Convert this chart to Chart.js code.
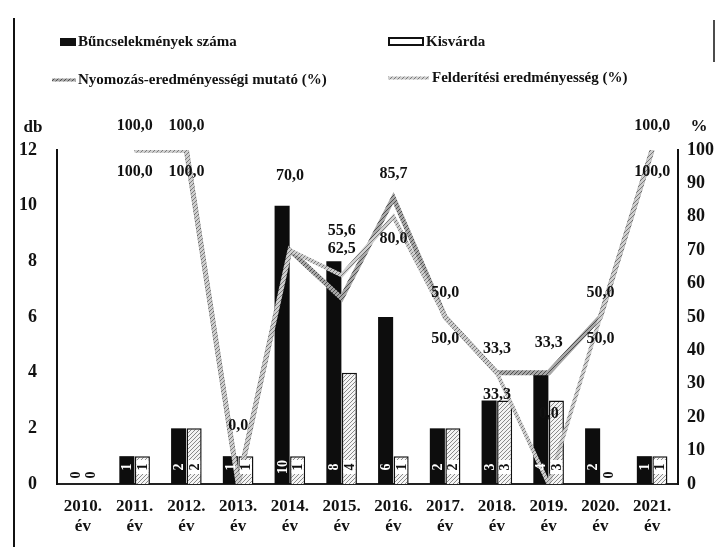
<!DOCTYPE html>
<html>
<head>
<meta charset="utf-8">
<script src="https://cdn.jsdelivr.net/npm/chart.js@4/dist/chart.umd.min.js"></script>
<style>
  body { margin: 0; background: #fff; }
  #wrap { width: 716px; height: 547px; position: relative; }
</style>
</head>
<body>
<div id="wrap"><canvas id="chart"></canvas></div>
<script>
// values
const years = ['2010.', '2011.', '2012.', '2013.', '2014.', '2015.', '2016.', '2017.', '2018.', '2019.', '2020.', '2021.'];
const crimes = [0, 1, 2, 1, 10, 8, 6, 2, 3, 4, 2, 1];
const kisvarda = [0, 1, 2, 1, 1, 4, 1, 2, 3, 3, 0, 1];
const nyomozas = [null, 100, 100, 0, 70, 55.6, 85.7, 50, 33.3, 33.3, 50, 100];
const felderites = [null, 100, 100, 0, 70, 62.5, 80, 50, 33.3, 0, 50, 100];
const dbTicks = [0, 2, 4, 6, 8, 10, 12];
const pctTicks = [0, 10, 20, 30, 40, 50, 60, 70, 80, 90, 100];

const SERIF = '"Liberation Serif", "DejaVu Serif", serif';

function makePattern(bg, dot, size) {
  const c = document.createElement('canvas');
  c.width = size; c.height = size;
  const g = c.getContext('2d');
  g.fillStyle = bg; g.fillRect(0, 0, size, size);
  g.fillStyle = dot;
  g.fillRect(0, 0, 1, 1);
  g.fillRect(2, 2, 1, 1);
  g.fillRect(1, 3, 1, 1);
  g.fillRect(3, 1, 1, 1);
  return g.createPattern(c, 'repeat');
}
const hatch = makePattern('#f4f4f4', '#8a8a8a', 4);
const lineA = makePattern('#a8a8a8', '#4e4e4e', 4);
const lineB = makePattern('#cfcfcf', '#7a7a7a', 4);

function fmt(v) { return v.toFixed(1).replace('.', ','); }

const annot = {
  id: 'annot',
  afterDatasetsDraw(chart) {
    const ctx = chart.ctx;
    const y = chart.scales.y;
    const base = y.getPixelForValue(0);
    // labels inside the bars
    [0, 1].forEach(di => {
      const meta = chart.getDatasetMeta(di);
      meta.data.forEach((bar, i) => {
        const v = chart.data.datasets[di].data[i];
        ctx.save();
        ctx.translate(bar.x, base - (v === 0 ? 9 : 17));
        ctx.rotate(-Math.PI / 2);
        ctx.font = 'bold 14px ' + SERIF;
        ctx.textAlign = 'center';
        ctx.textBaseline = 'middle';
        if (di === 1 && v > 0) {
          ctx.fillStyle = '#fff';
          ctx.fillRect(-7, -6, 14, 12);
        }
        ctx.fillStyle = (di === 0 && v > 0) ? '#fff' : '#111';
        ctx.fillText(String(v), 0, 1);
        ctx.restore();
      });
    });
    // labels of the two percentage lines, kept clear of the black bars
    const bars = chart.getDatasetMeta(0).data;
    const placed = [];
    ctx.save();
    ctx.font = 'bold 16px ' + SERIF;
    ctx.fillStyle = '#111';
    ctx.textAlign = 'center';
    ctx.textBaseline = 'middle';
    chart.getDatasetMeta(2).data.forEach((pt, i) => {
      const v = nyomozas[i];
      if (v === null) return;
      const ly = Math.min(pt.y - 24, bars[i].y - 30);
      placed[i] = ly;
      ctx.fillText(fmt(v), pt.x, ly);
    });
    chart.getDatasetMeta(3).data.forEach((pt, i) => {
      const v = felderites[i];
      if (v === null) return;
      let ly = pt.y + 22;
      if (v < 10) ly = pt.y - 70;
      else if (ly > bars[i].y) ly = Math.min(pt.y - 24, bars[i].y - 12);
      if (nyomozas[i] === v && placed[i] !== undefined && Math.abs(placed[i] - ly) < 22) return;
      ctx.fillText(fmt(v), pt.x, ly);
    });
    ctx.restore();
  },
  afterDraw(chart) {
    const ctx = chart.ctx;
    const ds = chart.data.datasets;
    ctx.save();
    // frame line on the left edge of the scan
    ctx.strokeStyle = '#111';
    ctx.lineWidth = 2;
    ctx.beginPath(); ctx.moveTo(14, 18); ctx.lineTo(14, 547); ctx.stroke();
    ctx.lineWidth = 1.5;
    ctx.beginPath(); ctx.moveTo(714, 20); ctx.lineTo(714, 62); ctx.stroke();

    ctx.font = 'bold 15px ' + SERIF;
    ctx.textBaseline = 'middle';
    ctx.textAlign = 'left';
    ctx.fillStyle = '#111';
    // legend row 1
    ctx.fillRect(60, 38, 16, 8);
    ctx.fillText(ds[0].label, 78, 42);
    ctx.fillStyle = '#fff';
    ctx.fillRect(389, 38, 34, 7);
    ctx.strokeStyle = '#111';
    ctx.lineWidth = 2;
    ctx.strokeRect(389, 38, 34, 7);
    ctx.fillStyle = '#111';
    ctx.fillText(ds[1].label, 426, 42);
    // legend row 2
    ctx.lineWidth = 3;
    ctx.strokeStyle = lineA;
    ctx.beginPath(); ctx.moveTo(52, 80); ctx.lineTo(76, 80); ctx.stroke();
    ctx.fillText(ds[2].label, 78, 80);
    ctx.strokeStyle = lineB;
    ctx.beginPath(); ctx.moveTo(388, 78); ctx.lineTo(429, 78); ctx.stroke();
    ctx.fillText(ds[3].label, 432, 78);

    // axis units
    ctx.font = 'bold 17px ' + SERIF;
    ctx.textAlign = 'center';
    ctx.fillText('db', 33, 128);
    ctx.fillText('%', 699, 127);
    ctx.restore();
  }
};

new Chart(document.getElementById('chart'), {
  type: 'bar',
  data: {
    labels: years,
    datasets: [
      {
        label: 'Bűncselekmények száma',
        data: crimes,
        backgroundColor: '#0d0d0d',
        borderColor: '#0d0d0d',
        borderWidth: 0,
        yAxisID: 'y',
        order: 2,
        categoryPercentage: 0.6,
        barPercentage: 0.97
      },
      {
        label: 'Kisvárda',
        data: kisvarda,
        backgroundColor: hatch,
        borderColor: '#111',
        borderWidth: 1.5,
        yAxisID: 'y',
        order: 2,
        categoryPercentage: 0.6,
        barPercentage: 0.97
      },
      {
        type: 'line',
        label: 'Nyomozás-eredményességi mutató (%)',
        data: nyomozas,
        borderColor: lineA,
        borderWidth: 5,
        pointRadius: 0,
        tension: 0,
        yAxisID: 'y1',
        order: 1
      },
      {
        type: 'line',
        label: 'Felderítési eredményesség (%)',
        data: felderites,
        borderColor: lineB,
        borderWidth: 4,
        pointRadius: 0,
        tension: 0,
        yAxisID: 'y1',
        order: 0
      }
    ]
  },
  options: {
    responsive: true,
    maintainAspectRatio: false,
    animation: false,
    layout: { padding: { top: 150, left: 0, right: 0, bottom: 0 } },
    plugins: { legend: { display: false }, tooltip: { enabled: false } },
    scales: {
      x: {
        grid: { display: false, drawTicks: false },
        border: { display: true, color: '#222', width: 2 },
        ticks: {
          color: '#111',
          font: { family: SERIF, size: 17, weight: 'bold' },
          padding: 12,
          maxRotation: 0,
          callback: function (v, i) { return [years[i], 'év']; }
        },
        afterFit: s => { s.height = 63; }
      },
      y: {
        position: 'left',
        min: 0, max: 12,
        afterBuildTicks: s => { s.ticks = dbTicks.map(v => ({ value: v })); },
        grid: { display: false, drawTicks: false },
        border: { display: true, color: '#111', width: 2 },
        ticks: {
          color: '#111',
          font: { family: SERIF, size: 18, weight: 'bold' },
          padding: 20
        },
        afterFit: s => { s.width = 57; }
      },
      y1: {
        position: 'right',
        min: 0, max: 100,
        afterBuildTicks: s => { s.ticks = pctTicks.map(v => ({ value: v })); },
        grid: { display: false, drawTicks: false },
        border: { display: true, color: '#111', width: 2 },
        ticks: {
          color: '#111',
          font: { family: SERIF, size: 18, weight: 'bold' },
          padding: 9
        },
        afterFit: s => { s.width = 38; }
      }
    }
  },
  plugins: [annot]
});
</script>
</body>
</html>
